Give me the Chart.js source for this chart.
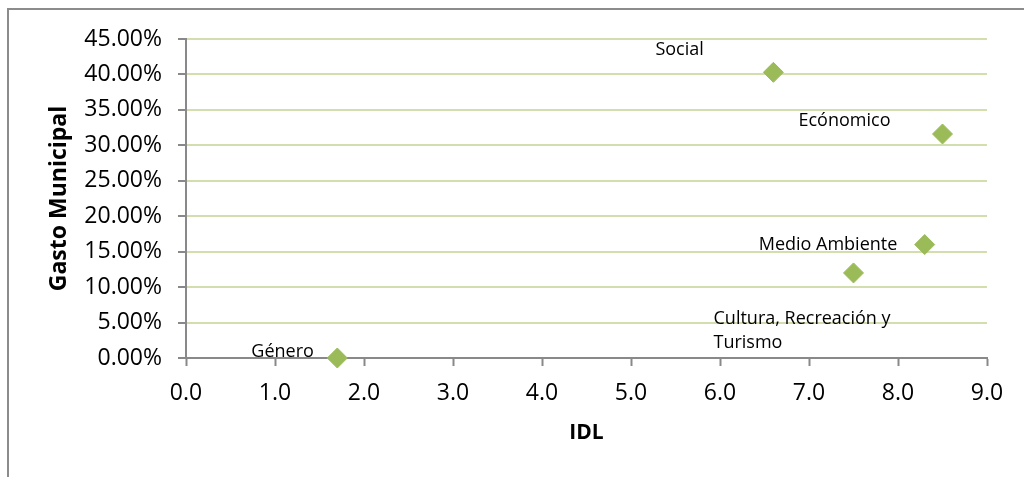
<!DOCTYPE html>
<html>
<head>
<meta charset="utf-8">
<script src="https://cdn.jsdelivr.net/npm/chart.js@4.4.1/dist/chart.umd.min.js"></script>
<style>
  html, body { margin: 0; padding: 0; background: #fff; }
  #wrap { position: relative; width: 1024px; height: 477px; overflow: hidden; }
  #frame { position: absolute; left: 7px; top: 8px; width: 1030px; height: 480px;
           border-top: 2px solid #8c8c8c; border-left: 2px solid #8c8c8c; }
  canvas { position: absolute; left: 0; top: 0; }
</style>
</head>
<body>
<div id="wrap">
  <div id="frame"></div>
  <canvas id="chart" width="1024" height="477"></canvas>
</div>
<script>
// values
const categories = ['Social', 'Ecónomico', 'Medio Ambiente', 'Cultura, Recreación y|Turismo', 'Género'];
const idl = [6.6, 8.5, 8.3, 7.5, 1.7];
const gasto = [40.3, 31.6, 16.0, 12.0, 0.0];   // percent
const xTicks = [0, 1, 2, 3, 4, 5, 6, 7, 8, 9];
const yTicks = [0, 5, 10, 15, 20, 25, 30, 35, 40, 45];

// where each label sits relative to its point (left edge, baseline)
const labelOffsets = [[-118, -17], [-144, -8], [-166, 5], [-140, 51], [-86, -1]];

const FONT = "'Open Sans', sans-serif";
const GRID = '#d2deae';
const AXIS = '#898989';

const pointLabels = {
  id: 'pointLabels',
  afterDatasetsDraw(chart) {
    const ctx = chart.ctx;
    const meta = chart.getDatasetMeta(0);
    ctx.save();
    ctx.font = '18px ' + FONT;
    ctx.fillStyle = '#000';
    ctx.textAlign = 'left';
    ctx.textBaseline = 'alphabetic';
    meta.data.forEach((pt, i) => {
      const [dx, dy] = labelOffsets[i];
      categories[i].split('|').forEach((line, j) => {
        ctx.fillText(line, pt.x + dx, pt.y + dy + j * 24);
      });
    });
    ctx.restore();
  }
};

new Chart(document.getElementById('chart'), {
  type: 'scatter',
  data: {
    datasets: [{
      data: idl.map((x, i) => ({ x: x, y: gasto[i] })),
      pointStyle: 'rectRot',
      pointRadius: 10,
      pointHoverRadius: 10,
      backgroundColor: '#9bbb59',
      borderColor: '#9bbb59',
      borderWidth: 1,
      clip: false
    }]
  },
  options: {
    responsive: false,
    animation: false,
    devicePixelRatio: 1,
    layout: { padding: { top: 39, right: 37, bottom: 0, left: 0 } },
    plugins: { legend: { display: false }, tooltip: { enabled: false } },
    scales: {
      x: {
        type: 'linear',
        min: 0, max: 9,
        afterBuildTicks: s => { s.ticks = xTicks.map(v => ({ value: v })); },
        afterFit: s => { s.height = 119; },
        ticks: {
          font: { family: FONT, size: 23 }, color: '#000', padding: 14,
          callback: v => v.toFixed(1)
        },
        grid: { drawOnChartArea: false, tickColor: AXIS, tickLength: 8, tickWidth: 2 },
        border: { color: AXIS, width: 2 },
        title: {
          display: true, text: 'IDL', color: '#000',
          font: { family: FONT, size: 21, weight: 'bold' },
          padding: { top: 0, bottom: 31 }
        }
      },
      y: {
        type: 'linear',
        min: 0, max: 45,
        afterBuildTicks: s => { s.ticks = yTicks.map(v => ({ value: v })); },
        afterFit: s => { s.width = 186; },
        ticks: {
          font: { family: FONT, size: 23 }, color: '#000', padding: 16,
          callback: v => v.toFixed(2) + '%'
        },
        grid: { color: GRID, lineWidth: 2, tickColor: AXIS, tickLength: 8, tickWidth: 2 },
        border: { color: AXIS, width: 2 },
        title: {
          display: true, text: 'Gasto Municipal', color: '#000',
          font: { family: FONT, size: 23, weight: 'bold' },
          padding: { top: 46, bottom: 0 }
        }
      }
    }
  },
  plugins: [pointLabels]
});
</script>
</body>
</html>
